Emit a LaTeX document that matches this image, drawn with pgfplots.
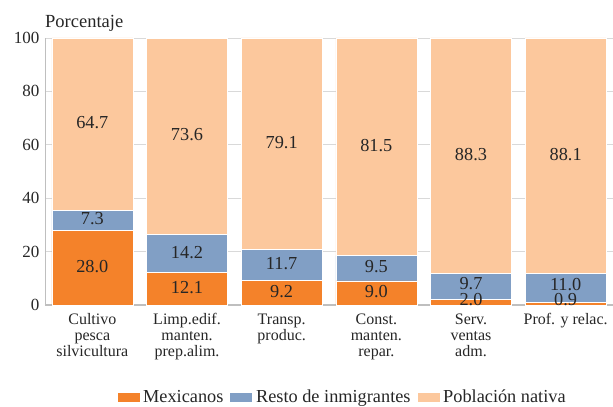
\documentclass[border=0pt]{standalone}
\usepackage{pgfplots}
\pgfplotsset{compat=1.18}
\usepackage{pgfplotstable}
\usepackage{fontspec}
\setmainfont{Liberation Serif}
\definecolor{cMex}{HTML}{F4822A}
\definecolor{cRes}{HTML}{819FC5}
\definecolor{cNat}{HTML}{FCC89D}
\definecolor{cGrid}{HTML}{D9D9D9}
\definecolor{cAxis}{HTML}{BFBFBF}
\definecolor{cTxt}{HTML}{262626}

\pgfplotstableread{
x M R N
0 28.0 7.3 64.7
1 12.1 14.2 73.6
2 9.2 11.7 79.1
3 9.0 9.5 81.5
4 2.0 9.7 88.3
5 0.9 11.0 88.1
}\data

\pgfplotstableread{
x y lab
0 14.00 28.0
0 31.65 7.3
0 67.65 64.7
1 6.05 12.1
1 19.20 14.2
1 63.15 73.6
2 4.60 9.2
2 15.05 11.7
2 60.45 79.1
3 4.50 9.0
3 13.75 9.5
3 59.25 81.5
4 1.40 2.0
4 7.60 9.7
4 55.85 88.3
5 1.40 0.9
5 7.00 11.0
5 55.95 88.1
}\labels

\begin{document}
\begin{tikzpicture}
\begin{axis}[name=ax,
  ybar stacked, bar width=81pt,
  scale only axis, width=568pt, height=267pt,
  xmin=-0.5, xmax=5.5, ymin=0, ymax=100,
  ytick={0,20,...,100},
  xtick={0,...,5},
  xticklabels={{Cultivo\\pesca\\silvicultura},{Limp.edif.\\manten.\\prep.alim.},{Transp.\\produc.},{Const.\\manten.\\repar.},{Serv.\\ventas\\adm.},{Prof. y relac.}},
  xticklabel style={align=center, font=\fontsize{16}{16}\selectfont, text=cTxt, yshift=-5pt},
  yticklabel style={font=\fontsize{17}{18}\selectfont, text=cTxt, xshift=-2pt},
  /pgf/number format/assume math mode=true,
  major tick length=0pt,
  axis x line*=bottom, axis y line*=left,
  x axis line style={draw=cAxis, line width=1.6pt, -},
  y axis line style={draw=cAxis, line width=0.8pt, -},
  ymajorgrids, grid style={draw=cGrid, line width=0.8pt},
  title={Porcentaje},
  title style={at={(0,1)}, anchor=base west, yshift=4pt, xshift=0pt, font=\fontsize{18.5}{20}\selectfont, text=cTxt, inner sep=0pt},
  legend style={draw=none, fill=none, at={(0.524,0)}, anchor=center, yshift=-92pt,
    legend columns=-1, font=\fontsize{18.3}{20}\selectfont, text=cTxt,
    /tikz/every even column/.append style={column sep=3pt},
    nodes={inner sep=3pt}},
  legend image code/.code={\fill[#1] (0pt,-5pt) rectangle (23pt,5pt);},
]
\addplot[fill=cMex, draw=white, line width=0.6pt] table[x=x, y=M]{\data};
\addlegendentry{Mexicanos}
\addplot[fill=cRes, draw=white, line width=0.6pt] table[x=x, y=R]{\data};
\addlegendentry{Resto de inmigrantes}
\addplot[fill=cNat, draw=white, line width=0.6pt] table[x=x, y=N]{\data};
\addlegendentry{Población nativa}
\end{axis}
\begin{axis}[
  scale only axis, width=568pt, height=267pt,
  xmin=-0.5, xmax=5.5, ymin=0, ymax=100,
  hide axis,
]
\addplot[draw=none, mark=none, nodes near coords, point meta=explicit symbolic,
  nodes near coords style={anchor=center, yshift=1.5pt, font=\fontsize{18.3}{20}\selectfont, text=cTxt, inner sep=0pt}]
  table[x=x, y=y, meta=lab]{\labels};
\end{axis}
\path (ax.south west) ++(-45pt,-101pt) coordinate (bl);
\path (ax.north east) ++(0pt,38pt) coordinate (tr);
\pgfresetboundingbox
\path[use as bounding box] (bl) rectangle (tr);
\end{tikzpicture}
\end{document}
